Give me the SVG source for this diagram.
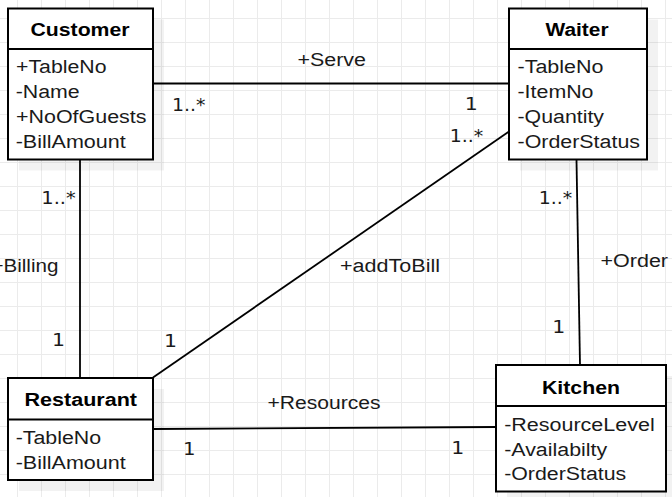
<svg xmlns="http://www.w3.org/2000/svg" width="672" height="497" viewBox="0 0 672 497">
<defs>
<pattern id="grid" x="17" y="18" width="24" height="24" patternUnits="userSpaceOnUse">
<path d="M0 0.5 H24 M0.5 0 V24" fill="none" stroke="#ebebeb" stroke-width="1"/>
</pattern>
</defs>
<style>
.box{fill:#fff;stroke:#000;stroke-width:2}
.shadow{fill:#000;fill-opacity:0.05}
.div{stroke:#000;stroke-width:2}
.hdr{font-family:"Liberation Sans",Arial,sans-serif;font-size:18px;font-weight:bold;fill:#000}
.attr{font-family:"Liberation Sans",Arial,sans-serif;font-size:18px;fill:#1a1a1a}
.lbl{font-family:"Liberation Sans",Arial,sans-serif;font-size:18px;fill:#1a1a1a}
.mul{font-family:"DejaVu Sans",sans-serif;font-size:18px;fill:#1a1a1a}
.conn line{stroke:#000;stroke-width:1.8;fill:none}
</style>
<rect width="672" height="497" fill="#fff"/>
<rect width="672" height="497" fill="url(#grid)"/>

<g id="connectors" class="conn">
<line x1="153" y1="83.5" x2="509" y2="83.5"/>
<line x1="509" y1="131.5" x2="153" y2="377.5"/>
<line x1="80" y1="160" x2="80" y2="378"/>
<line x1="576.5" y1="160" x2="580" y2="365"/>
<line x1="153" y1="429" x2="496" y2="427"/>
</g>

<g id="connector-labels">
<text class="lbl" x="297.5" y="66" textLength="68.5" lengthAdjust="spacingAndGlyphs">+Serve</text>
<text class="lbl" x="340" y="272" textLength="100" lengthAdjust="spacingAndGlyphs">+addToBill</text>
<text class="lbl" x="-8.6" y="272" textLength="67" lengthAdjust="spacingAndGlyphs">+Billing</text>
<text class="lbl" x="600.5" y="267" textLength="67.5" lengthAdjust="spacingAndGlyphs">+Order</text>
<text class="lbl" x="267.5" y="409" textLength="113" lengthAdjust="spacingAndGlyphs">+Resources</text>
<text class="mul" x="172" y="111" textLength="33.5" lengthAdjust="spacingAndGlyphs">1..*</text>
<text class="mul" x="449.7" y="142" textLength="33.5" lengthAdjust="spacingAndGlyphs">1..*</text>
<text class="mul" x="41.3" y="203.5" textLength="34.5" lengthAdjust="spacingAndGlyphs">1..*</text>
<text class="mul" x="538.7" y="203.5" textLength="33.5" lengthAdjust="spacingAndGlyphs">1..*</text>
<text class="mul" x="464.7" y="110" textLength="13" lengthAdjust="spacingAndGlyphs">1</text>
<text class="mul" x="164" y="347" textLength="13" lengthAdjust="spacingAndGlyphs">1</text>
<text class="mul" x="52" y="346" textLength="13" lengthAdjust="spacingAndGlyphs">1</text>
<text class="mul" x="552.3" y="333" textLength="13" lengthAdjust="spacingAndGlyphs">1</text>
<text class="mul" x="183" y="455" textLength="12.5" lengthAdjust="spacingAndGlyphs">1</text>
<text class="mul" x="451.3" y="453.5" textLength="13" lengthAdjust="spacingAndGlyphs">1</text>
</g>

<g id="customer">
<rect class="shadow" x="19" y="19.5" width="145" height="151"/>
<rect class="box" x="8" y="8.5" width="145" height="151"/>
<line class="div" x1="8" y1="49" x2="153" y2="49"/>
<text class="hdr" x="30.5" y="36" textLength="99" lengthAdjust="spacingAndGlyphs">Customer</text>
<text class="attr" x="16" y="73" textLength="90.5" lengthAdjust="spacingAndGlyphs">+TableNo</text>
<text class="attr" x="15.7" y="98" textLength="64" lengthAdjust="spacingAndGlyphs">-Name</text>
<text class="attr" x="16" y="123" textLength="130.5" lengthAdjust="spacingAndGlyphs">+NoOfGuests</text>
<text class="attr" x="15.7" y="148" textLength="110" lengthAdjust="spacingAndGlyphs">-BillAmount</text>
</g>

<g id="waiter">
<rect class="shadow" x="520" y="19.5" width="138" height="151"/>
<rect class="box" x="509" y="8.5" width="138" height="151"/>
<line class="div" x1="509" y1="49" x2="647" y2="49"/>
<text class="hdr" x="545.5" y="36" textLength="63" lengthAdjust="spacingAndGlyphs">Waiter</text>
<text class="attr" x="517.5" y="73" textLength="86" lengthAdjust="spacingAndGlyphs">-TableNo</text>
<text class="attr" x="517.5" y="98" textLength="76" lengthAdjust="spacingAndGlyphs">-ItemNo</text>
<text class="attr" x="517.5" y="123" textLength="86.5" lengthAdjust="spacingAndGlyphs">-Quantity</text>
<text class="attr" x="517.5" y="147.5" textLength="122.5" lengthAdjust="spacingAndGlyphs">-OrderStatus</text>
</g>

<g id="restaurant">
<rect class="shadow" x="19" y="389" width="145" height="102"/>
<rect class="box" x="8" y="378" width="145" height="102"/>
<line class="div" x1="8" y1="419.5" x2="153" y2="419.5"/>
<text class="hdr" x="24.5" y="406" textLength="112.5" lengthAdjust="spacingAndGlyphs">Restaurant</text>
<text class="attr" x="15.7" y="443.5" textLength="85.5" lengthAdjust="spacingAndGlyphs">-TableNo</text>
<text class="attr" x="15.7" y="469" textLength="110" lengthAdjust="spacingAndGlyphs">-BillAmount</text>
</g>

<g id="kitchen">
<rect class="shadow" x="507" y="376" width="170" height="126.5"/>
<rect class="box" x="496" y="365" width="170" height="126.5"/>
<line class="div" x1="496" y1="406" x2="666" y2="406"/>
<text class="hdr" x="542" y="393.5" textLength="78" lengthAdjust="spacingAndGlyphs">Kitchen</text>
<text class="attr" x="504.2" y="431" textLength="150.5" lengthAdjust="spacingAndGlyphs">-ResourceLevel</text>
<text class="attr" x="504.2" y="455.5" textLength="103" lengthAdjust="spacingAndGlyphs">-Availabilty</text>
<text class="attr" x="504.2" y="479.5" textLength="122" lengthAdjust="spacingAndGlyphs">-OrderStatus</text>
</g>
</svg>
